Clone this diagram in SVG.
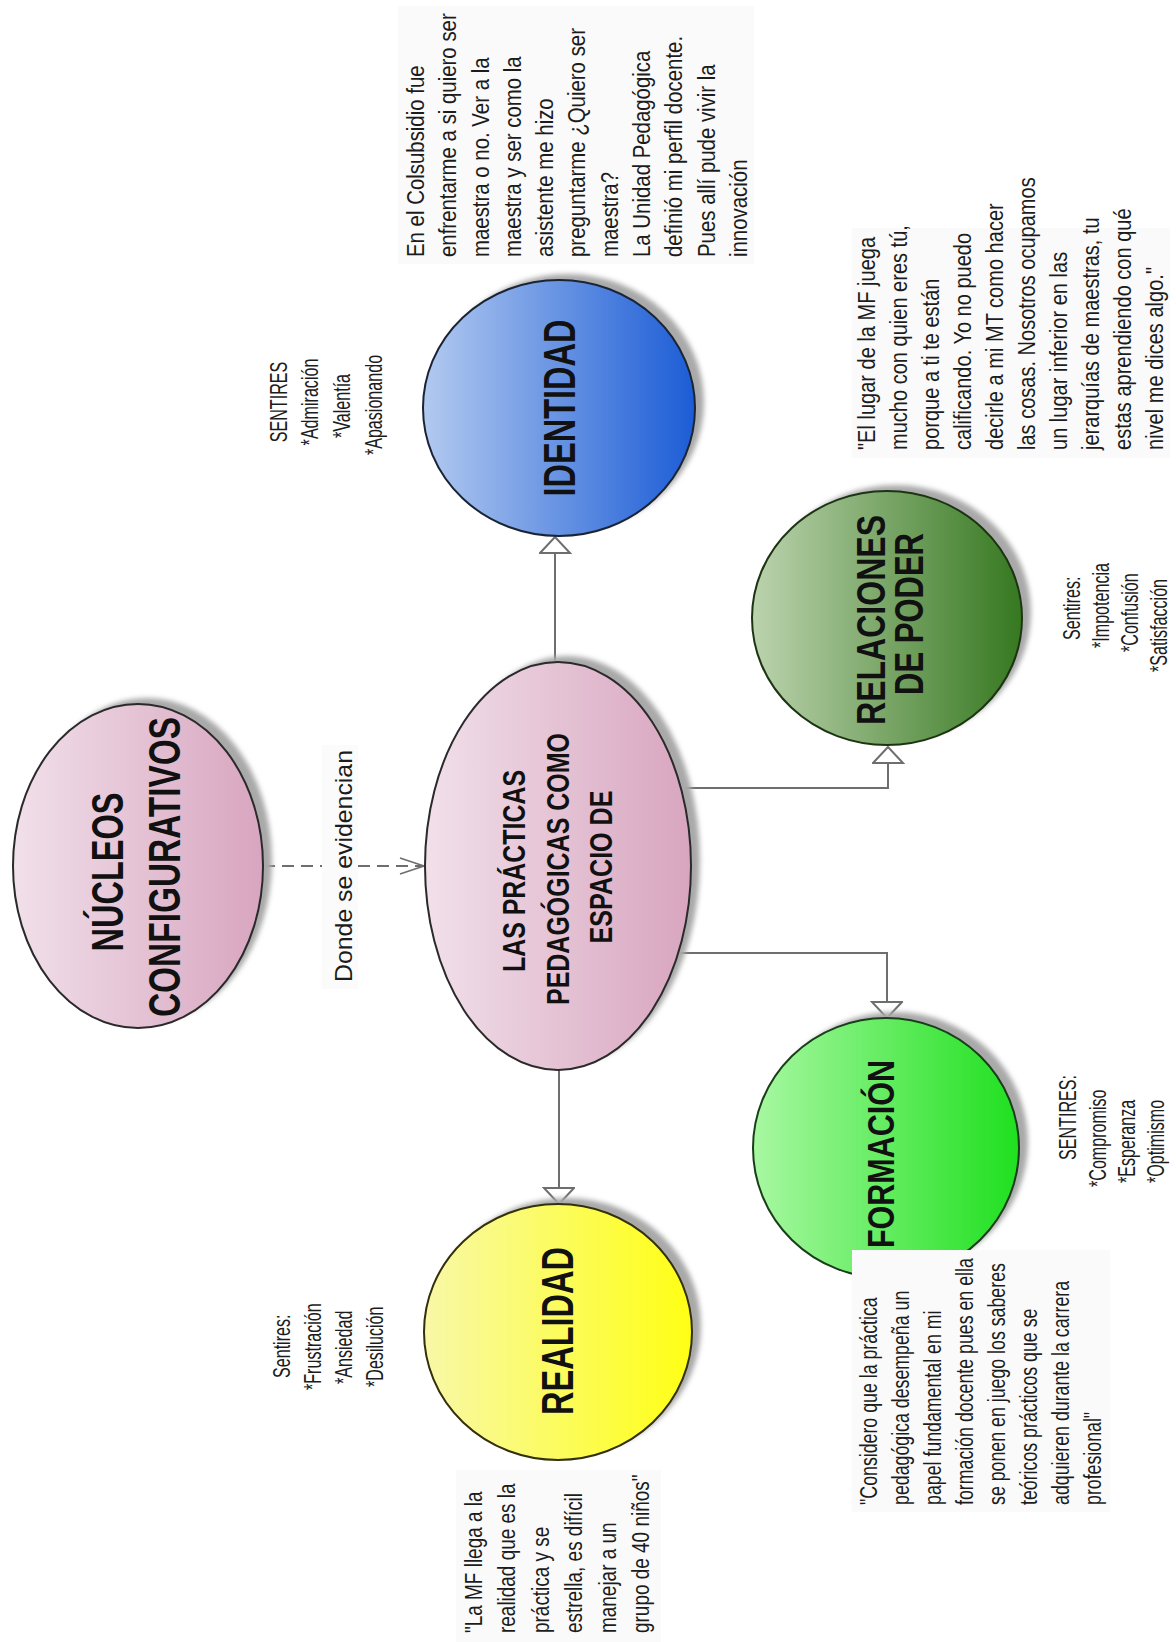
<svg xmlns="http://www.w3.org/2000/svg" width="1176" height="1642" viewBox="0 0 1176 1642">
<style>
.q{font-family:"Liberation Sans",Arial,sans-serif;font-size:24px;fill:#1c1c1c}
.s{font-family:"Liberation Sans",Arial,sans-serif;font-size:23px;fill:#1c1c1c}
.t{font-family:"Liberation Sans",Arial,sans-serif;font-weight:bold;fill:#111;text-anchor:middle}
.node{stroke-width:2}
.shadow{fill:#a9a9a9;filter:url(#blur)}
.conn{fill:none;stroke:#6e6e6e;stroke-width:2}
.bg{fill:#fafafa}
</style>
<defs>
<filter id="blur" x="-10%" y="-10%" width="120%" height="120%"><feGaussianBlur stdDeviation="2.5"/></filter>
<linearGradient id="gPink" x1="0" y1="0" x2="1" y2="0"><stop offset="0" stop-color="#f1e0ea"/><stop offset="1" stop-color="#d8a5bf"/></linearGradient>
<linearGradient id="gBlue" x1="0" y1="0" x2="1" y2="0"><stop offset="0" stop-color="#b3caf0"/><stop offset="1" stop-color="#1b5cd6"/></linearGradient>
<linearGradient id="gDkGreen" x1="0" y1="0" x2="1" y2="0"><stop offset="0" stop-color="#bcd3ae"/><stop offset="1" stop-color="#367820"/></linearGradient>
<linearGradient id="gGreen" x1="0" y1="0" x2="1" y2="0"><stop offset="0" stop-color="#a8f8a2"/><stop offset="1" stop-color="#1fe01f"/></linearGradient>
<linearGradient id="gYellow" x1="0" y1="0" x2="1" y2="0"><stop offset="0" stop-color="#f8f8a8"/><stop offset="1" stop-color="#ffff14"/></linearGradient>
<marker id="tri" markerUnits="userSpaceOnUse" markerWidth="20" markerHeight="34" refX="1" refY="16" orient="auto" viewBox="0 0 20 34"><path d="M1,1 L17,16 L1,31 Z" fill="#fff" stroke="#6e6e6e" stroke-width="2"/></marker>
<marker id="vee" markerUnits="userSpaceOnUse" markerWidth="28" markerHeight="20" refX="25" refY="9" orient="auto" viewBox="0 0 28 20"><path d="M1,1 L25,9 L1,17" fill="none" stroke="#6e6e6e" stroke-width="1.6"/></marker>
</defs>
<rect width="1176" height="1642" fill="#fff"/>

<g id="connectors">
<path class="conn" d="M263,866 L424,866" stroke-dasharray="12,7" marker-end="url(#vee)"/>
<path class="conn" d="M555,662 L555,553" marker-end="url(#tri)"/>
<path class="conn" d="M681,788 L888,788 L888,763" marker-end="url(#tri)"/>
<path class="conn" d="M679,953 L887,953 L887,1002" marker-end="url(#tri)"/>
<path class="conn" d="M559,1070 L559,1188" marker-end="url(#tri)"/>
<rect x="322" y="745" width="36" height="244" fill="#fbfbfb"/>
<text class="q" transform="translate(352,866) rotate(-90)" text-anchor="middle" font-size="31" textLength="232" lengthAdjust="spacingAndGlyphs">Donde se evidencian</text>
</g>

<g id="node-nucleos">
<ellipse class="shadow" cx="147" cy="860" rx="125" ry="162"/>
<ellipse class="node" cx="138" cy="866" rx="125" ry="162" fill="url(#gPink)" stroke="#2a2a2a"/>
<text class="t" font-size="44" transform="translate(123,872) rotate(-90)" textLength="159" lengthAdjust="spacingAndGlyphs">NÚCLEOS</text>
<text class="t" font-size="44" transform="translate(180,867) rotate(-90)" textLength="300" lengthAdjust="spacingAndGlyphs">CONFIGURATIVOS</text>
</g>

<g id="node-practicas">
<ellipse class="shadow" cx="567" cy="860" rx="133" ry="204"/>
<ellipse class="node" cx="558" cy="866" rx="133" ry="204" fill="url(#gPink)" stroke="#2a2a2a"/>
<text class="t" font-size="32" transform="translate(525,871) rotate(-90)" textLength="202" lengthAdjust="spacingAndGlyphs">LAS PRÁCTICAS</text>
<text class="t" font-size="32" transform="translate(569,869) rotate(-90)" textLength="272" lengthAdjust="spacingAndGlyphs">PEDAGÓGICAS COMO</text>
<text class="t" font-size="32" transform="translate(612,867) rotate(-90)" textLength="153" lengthAdjust="spacingAndGlyphs">ESPACIO DE</text>
</g>

<g id="node-identidad">
<ellipse class="shadow" cx="568" cy="402" rx="136" ry="128"/>
<ellipse class="node" cx="559" cy="408" rx="136" ry="128" fill="url(#gBlue)" stroke="#1a2435"/>
<text class="t" font-size="44" transform="translate(575,408) rotate(-90)" textLength="177" lengthAdjust="spacingAndGlyphs">IDENTIDAD</text>
</g>

<g id="node-relaciones">
<ellipse class="shadow" cx="896" cy="612" rx="135" ry="127"/>
<ellipse class="node" cx="887" cy="618" rx="135" ry="127" fill="url(#gDkGreen)" stroke="#1d3413"/>
<text class="t" font-size="40" transform="translate(885,620) rotate(-90)" textLength="210" lengthAdjust="spacingAndGlyphs">RELACIONES</text>
<text class="t" font-size="40" transform="translate(923,614) rotate(-90)" textLength="162" lengthAdjust="spacingAndGlyphs">DE PODER</text>
</g>

<g id="node-formacion">
<ellipse class="shadow" cx="895" cy="1142" rx="133" ry="130"/>
<ellipse class="node" cx="886" cy="1148" rx="133" ry="130" fill="url(#gGreen)" stroke="#1a3d1a"/>
<text class="t" font-size="36" transform="translate(894,1154) rotate(-90)" textLength="188" lengthAdjust="spacingAndGlyphs">FORMACIÓN</text>
</g>

<g id="node-realidad">
<ellipse class="shadow" cx="567" cy="1326" rx="134" ry="128"/>
<ellipse class="node" cx="558" cy="1332" rx="134" ry="128" fill="url(#gYellow)" stroke="#33300c"/>
<text class="t" font-size="45" transform="translate(573,1331) rotate(-90)" textLength="168" lengthAdjust="spacingAndGlyphs">REALIDAD</text>
</g>

<g id="note-identidad">
<rect class="bg" x="398" y="6" width="356" height="258"/>
<g transform="translate(424,257) rotate(-90) scale(0.85,1)">
<text class="q"><tspan x="0" y="0">En el Colsubsidio fue</tspan><tspan x="0" dy="32.3">enfrentarme a si quiero ser</tspan><tspan x="0" dy="32.3">maestra o no. Ver a la</tspan><tspan x="0" dy="32.3">maestra y ser como la</tspan><tspan x="0" dy="32.3">asistente me hizo</tspan><tspan x="0" dy="32.3">preguntarme ¿Quiero ser</tspan><tspan x="0" dy="32.3">maestra?</tspan><tspan x="0" dy="32.3">La Unidad Pedagógica</tspan><tspan x="0" dy="32.3">definió mi perfil docente.</tspan><tspan x="0" dy="32.3">Pues allí pude vivir la</tspan><tspan x="0" dy="32.3">innovación</tspan></text>
</g>
<g class="s" text-anchor="middle">
<text transform="translate(287,402) rotate(-90) scale(0.7,1)">SENTIRES</text>
<text transform="translate(318,402) rotate(-90) scale(0.7,1)">*Admiración</text>
<text transform="translate(350,406) rotate(-90) scale(0.7,1)">*Valentía</text>
<text transform="translate(382,405) rotate(-90) scale(0.7,1)">*Apasionando</text>
</g>
</g>

<g id="note-relaciones">
<rect class="bg" x="852" y="228" width="318" height="230"/>
<g transform="translate(875,450) rotate(-90) scale(0.835,1)">
<text class="q"><tspan x="0" y="0">"El lugar de la MF juega</tspan><tspan x="0" dy="32">mucho con quien eres tú,</tspan><tspan x="0" dy="32">porque a ti te están</tspan><tspan x="0" dy="32">calificando. Yo no puedo</tspan><tspan x="0" dy="32">decirle a mi MT como hacer</tspan><tspan x="0" dy="32">las cosas. Nosotros ocupamos</tspan><tspan x="0" dy="32">un lugar inferior en las</tspan><tspan x="0" dy="32">jerarquías de maestras, tu</tspan><tspan x="0" dy="32">estas aprendiendo con qué</tspan><tspan x="0" dy="32">nivel me dices algo."</tspan></text>
</g>
<g class="s">
<text transform="translate(1080,640) rotate(-90) scale(0.7,1)">Sentires:</text>
<text transform="translate(1109,648) rotate(-90) scale(0.7,1)">*Impotencia</text>
<text transform="translate(1138,652) rotate(-90) scale(0.7,1)">*Confusión</text>
<text transform="translate(1167,672) rotate(-90) scale(0.7,1)">*Satisfacción</text>
</g>
</g>

<g id="note-formacion">
<rect class="bg" x="852" y="1250" width="258" height="262"/>
<g transform="translate(877,1505) rotate(-90) scale(0.74,1)">
<text class="q"><tspan x="0" y="0">"Considero que la práctica</tspan><tspan x="0" dy="32">pedagógica desempeña un</tspan><tspan x="0" dy="32">papel fundamental en mi</tspan><tspan x="0" dy="32">formación docente pues en ella</tspan><tspan x="0" dy="32">se ponen en juego los saberes</tspan><tspan x="0" dy="32">teóricos prácticos que se</tspan><tspan x="0" dy="32">adquieren durante la carrera</tspan><tspan x="0" dy="32">profesional"</tspan></text>
</g>
<g class="s">
<text transform="translate(1076,1160) rotate(-90) scale(0.7,1)">SENTIRES:</text>
<text transform="translate(1106,1187) rotate(-90) scale(0.7,1)">*Compromiso</text>
<text transform="translate(1135,1183) rotate(-90) scale(0.7,1)">*Esperanza</text>
<text transform="translate(1164,1183) rotate(-90) scale(0.7,1)">*Optimismo</text>
</g>
</g>

<g id="note-realidad">
<rect class="bg" x="456" y="1470" width="205" height="172"/>
<g transform="translate(482,1633) rotate(-90) scale(0.79,1)">
<text class="q"><tspan x="0" y="0">"La MF llega a la</tspan><tspan x="0" dy="33.5">realidad que es la</tspan><tspan x="0" dy="33.5">práctica y se</tspan><tspan x="0" dy="33.5">estrella, es difícil</tspan><tspan x="0" dy="33.5">manejar a un</tspan><tspan x="0" dy="33.5">grupo de 40 niños"</tspan></text>
</g>
<g class="s">
<text transform="translate(290,1378) rotate(-90) scale(0.7,1)">Sentires:</text>
<text transform="translate(321,1390) rotate(-90) scale(0.7,1)">*Frustración</text>
<text transform="translate(352,1384) rotate(-90) scale(0.7,1)">*Ansiedad</text>
<text transform="translate(383,1387) rotate(-90) scale(0.7,1)">*Desilución</text>
</g>
</g>
</svg>
